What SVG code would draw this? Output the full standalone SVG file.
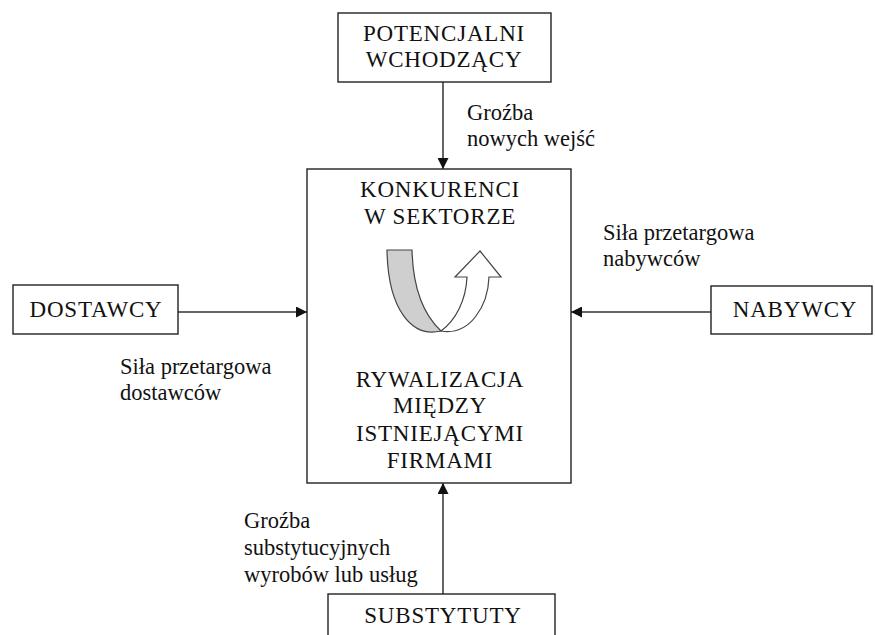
<svg xmlns="http://www.w3.org/2000/svg" width="875" height="635" viewBox="0 0 875 635">
<style>
.box{fill:#fff;stroke:#222;stroke-width:1.4}
.node{font-family:"Liberation Serif",serif;font-size:23px;fill:#111;text-anchor:middle;letter-spacing:0.8px}
.lbl{font-family:"Liberation Serif",serif;font-size:22.5px;fill:#111}
.conn{stroke:#333;stroke-width:1.5;fill:none;marker-end:url(#ah)}
</style>
<defs>
<marker id="ah" viewBox="0 0 10 10" refX="10" refY="5" markerWidth="11" markerHeight="11" markerUnits="userSpaceOnUse" orient="auto">
<path d="M0,0 L10,5 L0,10 Z" fill="#111"/>
</marker>
</defs>
<rect width="875" height="635" fill="#fff"/>
<g id="connectors">
<line class="conn" x1="443" y1="82" x2="443" y2="169"/>
<line class="conn" x1="178" y1="312" x2="307" y2="312"/>
<line class="conn" x1="711" y1="312" x2="571" y2="312"/>
<line class="conn" x1="443" y1="594" x2="443" y2="483"/>
</g>
<g id="labels">
<text class="lbl" x="467" y="120">Groźba</text>
<text class="lbl" x="467" y="146">nowych wejść</text>
<text class="lbl" x="603" y="240">Siła przetargowa</text>
<text class="lbl" x="603" y="266">nabywców</text>
<text class="lbl" x="120" y="374">Siła przetargowa</text>
<text class="lbl" x="120" y="400">dostawców</text>
<text class="lbl" x="244" y="528">Groźba</text>
<text class="lbl" x="244" y="555">substytucyjnych</text>
<text class="lbl" x="244" y="582">wyrobów lub usług</text>
</g>
<g id="potencjalni">
<rect class="box" x="338" y="13" width="213" height="69"/>
<text class="node" x="444" y="41">POTENCJALNI</text>
<text class="node" x="444" y="67">WCHODZĄCY</text>
</g>
<g id="konkurenci">
<rect class="box" x="307" y="169" width="264" height="314"/>
<text class="node" x="440" y="197">KONKURENCI</text>
<text class="node" x="440" y="224">W SEKTORZE</text>
<path d="M387,250 L412,250 C413,290 425,316 441,331 C412,338 388,310 387,250 Z" fill="#cfcfcf" stroke="#444" stroke-width="1.2"/>
<path d="M441,331 C456,320 466,300 467,277 L455,277 L480,251 L501,277 L489,277 C488,306 470,336 441,331 Z" fill="#fff" stroke="#444" stroke-width="1.2"/>
<text class="node" x="440" y="387">RYWALIZACJA</text>
<text class="node" x="440" y="413">MIĘDZY</text>
<text class="node" x="440" y="441">ISTNIEJĄCYMI</text>
<text class="node" x="440" y="468">FIRMAMI</text>
</g>
<g id="dostawcy">
<rect class="box" x="13" y="285" width="165" height="49"/>
<text class="node" x="96" y="317">DOSTAWCY</text>
</g>
<g id="nabywcy">
<rect class="box" x="711" y="286" width="161" height="48"/>
<text class="node" x="795" y="317">NABYWCY</text>
</g>
<g id="substytuty">
<rect class="box" x="328" y="594" width="227" height="50"/>
<text class="node" x="443" y="623">SUBSTYTUTY</text>
</g>
</svg>
